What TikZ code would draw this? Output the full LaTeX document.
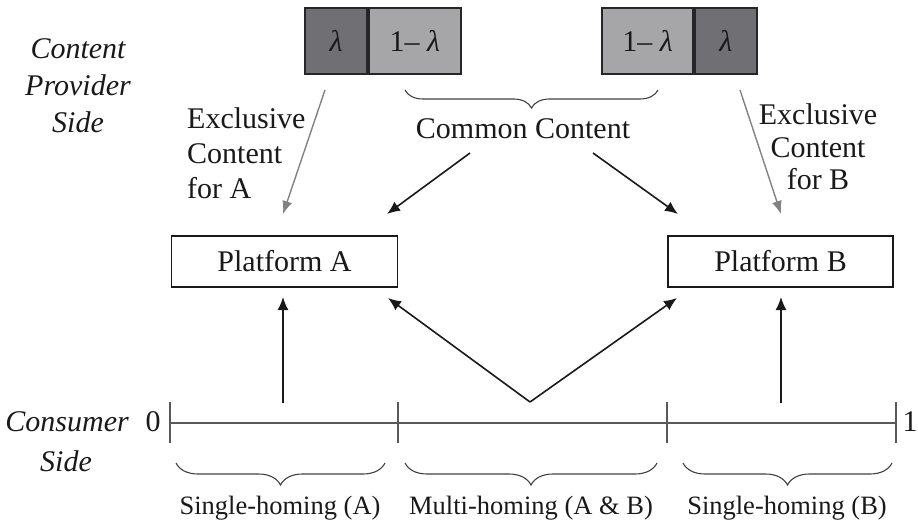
\documentclass[tikz,border=0pt]{standalone}
\usepackage{fontspec}
\setmainfont{Liberation Serif}
\usetikzlibrary{arrows.meta,decorations.pathreplacing}
\definecolor{darkfill}{RGB}{112,112,116}
\definecolor{lightfill}{RGB}{166,166,168}
\definecolor{exgray}{RGB}{130,130,130}
\begin{document}
\begin{tikzpicture}[x=1pt,y=-1pt,
  txt/.style={font=\fontsize{30}{36}\selectfont, inner sep=0pt, text=black!90},
  cell/.style={draw=black!85, line width=1.8pt, minimum height=66pt, inner sep=0pt,
    font=\fontsize{30}{36}\selectfont, text=black!90},
  darkcell/.style={cell, fill=darkfill, minimum width=62pt},
  lightcell/.style={cell, fill=lightfill},
  platform/.style={draw=black!90, line width=1.2pt, minimum width=226pt, minimum height=51pt,
    inner sep=0pt, font=\fontsize{30}{36}\selectfont, text=black!90},
  blackarrow/.style={draw=black!90, line width=1.6pt, -{Latex[length=13pt,width=11pt]}},
  grayarrow/.style={draw=exgray, line width=1.4pt, -{Latex[length=13pt,width=10pt]}},
  cbrace/.style={draw=black!75, line width=1.1pt, decorate,
    decoration={brace, mirror, amplitude=#1}},
  axis/.style={draw=black!65, line width=1.4pt},
  lbl/.style={font=\fontsize{26.5}{30}\selectfont, inner sep=0pt, text=black!90}
]
\useasboundingbox (0,0) rectangle (918,524);

% content provider boxes
\node[darkcell] (lamA) at (336,41) {\itshape λ};
\node[lightcell, minimum width=92pt, anchor=west] (omA) at (lamA.east) {1–~{\itshape λ}};
\node[lightcell, minimum width=91pt] (omB) at (647.5,41) {1–~{\itshape λ}};
\node[darkcell, anchor=west] (lamB) at (omB.east) {\itshape λ};

% side labels
\node[txt, align=center, font=\fontsize{30}{37}\selectfont\itshape] (cps) at (78,86) {Content\\Provider\\Side};
\node[txt, font=\fontsize{30}{36}\selectfont\itshape, anchor=east] (consumer) at (129,422) {Consumer};
\node[txt, font=\fontsize{30}{36}\selectfont\itshape] (side) at (66,461) {Side};

% exclusive content labels
\node[txt, align=left, font=\fontsize{30}{35}\selectfont, anchor=west] (exAl) at (187,153) {Exclusive\\Content\\for A};
\node[txt, align=center, font=\fontsize{30}{32.5}\selectfont] (exBl) at (818,147) {Exclusive\\Content\\for B};

% common content
\draw[cbrace=18pt] (405,90) -- (658,90);
\node[txt] (common) at (523,129) {Common Content};

% platforms
\node[platform] (platA) at (284.5,261.5) {Platform A};
\node[platform, minimum width=225pt] (platB) at (780.5,261.5) {Platform B};

% arrow end points
\coordinate (exAs) at (325,90);
\coordinate (exAe) at (283,214);
\coordinate (comAs) at (470,153);
\coordinate (comAe) at (387,214);
\coordinate (comBs) at (593,153);
\coordinate (comBe) at (678,214);
\coordinate (exBs) at (740,90);
\coordinate (exBe) at (781,214);

\draw[grayarrow] (exAs) -- (exAe);
\draw[grayarrow] (exBs) -- (exBe);
\draw[blackarrow] (comAs) -- (comAe);
\draw[blackarrow] (comBs) -- (comBe);

% consumer axis
\coordinate (x0) at (170,423);
\coordinate (xa) at (398,423);
\coordinate (xb) at (667,423);
\coordinate (x1) at (896,423);
\draw[axis] (x0) -- (x1);
\foreach \p in {x0,xa,xb,x1}
  \draw[axis] ([yshift=-20pt]\p) -- ([yshift=21pt]\p);
\node[txt] (zero) at (153,422) {0};
\node[txt] (one) at (910,422) {1};

% consumer arrows
\coordinate (upAs) at (283,403);
\coordinate (upAe) at (283,297);
\coordinate (upBs) at (781,403);
\coordinate (upBe) at (781,297);
\coordinate (apex) at (530,402);
\coordinate (vA) at (388,298);
\coordinate (vB) at (677,298);
\draw[blackarrow] (upAs) -- (upAe);
\draw[blackarrow] (upBs) -- (upBe);
\draw[blackarrow] (apex) -- (vA);
\draw[blackarrow] (apex) -- (vB);

% bottom braces and labels
\draw[cbrace=22pt] (176,463) -- (385,463);
\draw[cbrace=22pt] (405,463) -- (657,463);
\draw[cbrace=22pt] (683,463) -- (892,463);
\node[lbl] (shA) at (280,508) {Single-homing (A)};
\node[lbl] (mh) at (531,508) {Multi-homing (A \& B)};
\node[lbl] (shB) at (787,508) {Single-homing (B)};
\end{tikzpicture}
\end{document}
